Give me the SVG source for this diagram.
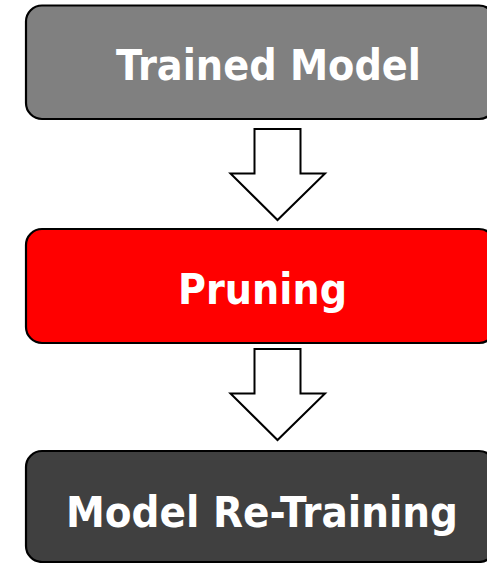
<svg xmlns="http://www.w3.org/2000/svg" width="487" height="563" viewBox="0 0 487 563">
<style>
.box{stroke:#000;stroke-width:2.2}
.lbl{font-family:"DejaVu Sans","Liberation Sans",sans-serif;font-weight:bold;font-size:43px;fill:#fff}
.arr{fill:#fff;stroke:#000;stroke-width:2;stroke-linejoin:miter}
</style>
<rect width="487" height="563" fill="#fff"/>
<g id="connectors">
<polygon class="arr" points="254.5,129 300.5,129 300.5,173.5 325,173.5 277.5,220 230.5,173.5 254.5,173.5"/>
<polygon class="arr" points="254.5,349 300.5,349 300.5,393.5 325,393.5 277.5,440 230.5,393.5 254.5,393.5"/>
</g>
<g id="trained-model">
<rect class="box" x="26" y="5.5" width="469" height="113.5" rx="16" fill="#808080"/>
<text class="lbl" x="116" y="79.5" textLength="305" lengthAdjust="spacingAndGlyphs">Trained Model</text>
</g>
<g id="pruning">
<rect class="box" x="26" y="229" width="469" height="114" rx="16" fill="#ff0000"/>
<text class="lbl" x="178" y="304" textLength="169" lengthAdjust="spacingAndGlyphs">Pruning</text>
</g>
<g id="model-retraining">
<rect class="box" x="26" y="451" width="469" height="111" rx="16" fill="#404040"/>
<text class="lbl" x="66" y="526.5" textLength="392" lengthAdjust="spacingAndGlyphs">Model Re-Training</text>
</g>
</svg>
